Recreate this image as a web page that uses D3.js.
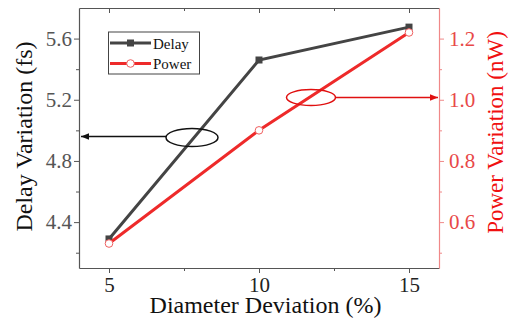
<!DOCTYPE html>
<html>
<head>
<meta charset="utf-8">
<script src="https://cdn.jsdelivr.net/npm/d3@7"></script>
<style>
  body { margin: 0; background: #fff; }
  svg text { font-family: "Liberation Serif", "Times New Roman", serif; }
</style>
</head>
<body>
<div id="chart"></div>
<script>
const deviation = [5, 10, 15];
const delay = [4.29, 5.46, 5.675];
const power = [0.53, 0.9, 1.22];
const xTicks = [5, 10, 15];
const delayTicks = [4.4, 4.8, 5.2, 5.6];
const powerTicks = [0.6, 0.8, 1.0, 1.2];

const W = 508, H = 322;
const margin = { top: 8, right: 69, bottom: 54, left: 79 };
const width = W - margin.left - margin.right;
const height = H - margin.top - margin.bottom;

const grey = "#555";
const darkLine = "#444";
const red = "#ee2a2a";
const redAxis = "#f08888";

const svg = d3.select("#chart").append("svg")
    .attr("width", W).attr("height", H);
const g = svg.append("g")
    .attr("transform", "translate(" + margin.left + "," + margin.top + ")");

const x = d3.scaleLinear().domain([4, 16]).range([0, width]);
const yL = d3.scaleLinear().domain([4.1, 5.8]).range([height, 0]);
const yR = d3.scaleLinear().domain([0.45, 1.3]).range([height, 0]);

function styleAxis(sel, color, textColor) {
    sel.attr("font-family", null).attr("font-size", null);
    sel.select(".domain").attr("stroke", color).attr("stroke-width", 1.2);
    sel.selectAll(".tick line").attr("stroke", color);
    sel.selectAll(".tick text").attr("fill", textColor).style("font-size", "21px");
}
function minor(sel, color) {
    sel.select(".domain").remove();
    sel.selectAll("line").attr("stroke", color);
}

// bottom axis
const bx = g.append("g").attr("transform", "translate(0," + height + ")")
    .call(d3.axisBottom(x).tickValues(xTicks).tickSize(5).tickPadding(4.5).tickSizeOuter(0));
styleAxis(bx, grey, "#222");
g.append("g").attr("transform", "translate(0," + height + ")")
    .call(d3.axisBottom(x).tickValues([7.5, 12.5]).tickSize(3).tickFormat("").tickSizeOuter(0))
    .call(s => minor(s, grey));

// top axis (mirror, inward ticks)
g.append("g")
    .call(d3.axisBottom(x).tickValues(xTicks).tickSize(5).tickFormat("").tickSizeOuter(0))
    .call(s => { s.select(".domain").attr("stroke", grey).attr("stroke-width", 1.2); s.selectAll("line").attr("stroke", grey); });
g.append("g")
    .call(d3.axisBottom(x).tickValues([7.5, 12.5]).tickSize(3).tickFormat("").tickSizeOuter(0))
    .call(s => minor(s, grey));

// left axis
const ly = g.append("g")
    .call(d3.axisLeft(yL).tickValues(delayTicks).tickSize(5).tickPadding(2).tickSizeOuter(0).tickFormat(d3.format(".1f")));
styleAxis(ly, grey, grey);
g.append("g")
    .call(d3.axisLeft(yL).tickValues([4.2, 4.6, 5.0, 5.4]).tickSize(3).tickFormat("").tickSizeOuter(0))
    .call(s => minor(s, grey));

// right axis
const ry = g.append("g").attr("transform", "translate(" + width + ",0)")
    .call(d3.axisRight(yR).tickValues(powerTicks).tickSize(5).tickPadding(5).tickSizeOuter(0).tickFormat(d3.format(".1f")));
styleAxis(ry, redAxis, "#e84848");
g.append("g").attr("transform", "translate(" + width + ",0)")
    .call(d3.axisRight(yR).tickValues([0.5, 0.7, 0.9, 1.1]).tickSize(3).tickFormat("").tickSizeOuter(0))
    .call(s => minor(s, redAxis));

// axis titles
svg.append("text")
    .attr("transform", "translate(32,136.5) rotate(-90)")
    .attr("text-anchor", "middle")
    .style("font-size", "24px").attr("fill", "#111")
    .text("Delay Variation (fs)");
svg.append("text")
    .attr("transform", "translate(503,132.5) rotate(-90)")
    .attr("text-anchor", "middle")
    .style("font-size", "23px").attr("fill", "#f01010")
    .text("Power Variation (nW)");
svg.append("text")
    .attr("x", 265.5).attr("y", 313)
    .attr("text-anchor", "middle")
    .style("font-size", "24px").attr("fill", "#111")
    .text("Diameter Deviation (%)");

// series
const delayData = deviation.map((d, i) => ({ x: d, y: delay[i] }));
const powerData = deviation.map((d, i) => ({ x: d, y: power[i] }));

g.append("path").datum(delayData)
    .attr("fill", "none").attr("stroke", darkLine).attr("stroke-width", 3)
    .attr("d", d3.line().x(d => x(d.x)).y(d => yL(d.y)));
g.selectAll(".sq").data(delayData).enter().append("rect")
    .attr("x", d => x(d.x) - 3.5).attr("y", d => yL(d.y) - 3.5)
    .attr("width", 7).attr("height", 7).attr("fill", darkLine);

g.append("path").datum(powerData)
    .attr("fill", "none").attr("stroke", red).attr("stroke-width", 3)
    .attr("d", d3.line().x(d => x(d.x)).y(d => yR(d.y)));
g.selectAll(".ci").data(powerData).enter().append("circle")
    .attr("cx", d => x(d.x)).attr("cy", d => yR(d.y)).attr("r", 3.8)
    .attr("fill", "#fff").attr("stroke", "#f06060").attr("stroke-width", 1);

// annotations: ellipses with arrows
const defs = svg.append("defs");
function marker(id, color) {
    defs.append("marker").attr("id", id)
        .attr("viewBox", "0 0 10 10").attr("refX", 10).attr("refY", 5)
        .attr("markerWidth", 8).attr("markerHeight", 8).attr("orient", "auto-start-reverse")
        .attr("markerUnits", "userSpaceOnUse")
        .append("path").attr("d", "M0,1 L10,5 L0,9 Z").attr("fill", color);
}
marker("arrK", "#111");
marker("arrR", "#e01010");

svg.append("ellipse").attr("cx", 192).attr("cy", 137.5).attr("rx", 26).attr("ry", 9)
    .attr("fill", "none").attr("stroke", "#111").attr("stroke-width", 1.5);
svg.append("line").attr("x1", 166).attr("y1", 136.5).attr("x2", 81).attr("y2", 136.5)
    .attr("stroke", "#111").attr("stroke-width", 1.3).attr("marker-end", "url(#arrK)");

svg.append("ellipse").attr("cx", 311).attr("cy", 97.5).attr("rx", 24.5).attr("ry", 8)
    .attr("fill", "none").attr("stroke", "#e01010").attr("stroke-width", 1.5);
svg.append("line").attr("x1", 335.5).attr("y1", 97.5).attr("x2", 438).attr("y2", 97.5)
    .attr("stroke", "#e01010").attr("stroke-width", 1.5).attr("marker-end", "url(#arrR)");

// legend
const lg = svg.append("g");
lg.append("rect").attr("x", 108.5).attr("y", 32).attr("width", 91).attr("height", 42)
    .attr("fill", "#fff").attr("stroke", "#444").attr("stroke-width", 1);
const legendItems = [
    { name: "Delay", color: darkLine, y: 43 },
    { name: "Power", color: red, y: 63.5 }
];
legendItems.forEach((it, i) => {
    lg.append("line").attr("x1", 110).attr("x2", 151).attr("y1", it.y).attr("y2", it.y)
        .attr("stroke", it.color).attr("stroke-width", 3);
    if (i === 0) {
        lg.append("rect").attr("x", 127).attr("y", it.y - 3.5).attr("width", 7).attr("height", 7).attr("fill", darkLine);
    } else {
        lg.append("circle").attr("cx", 130.5).attr("cy", it.y).attr("r", 3.8)
            .attr("fill", "#fff").attr("stroke", "#f06060");
    }
    lg.append("text").attr("x", 153).attr("y", it.y + 5.5)
        .style("font-size", "15px").attr("fill", "#111").text(it.name);
});
</script>
</body>
</html>
